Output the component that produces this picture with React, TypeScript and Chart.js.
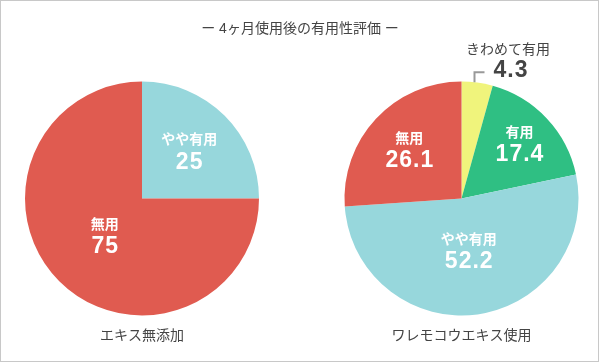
import { useEffect, useRef } from "react";
import { Chart, registerables } from "chart.js";

Chart.register(...registerables);

const titleText = "ー 4ヶ月使用後の有用性評価 ー";

const leftName = "エキス無添加";
const leftCategories = ["やや有用", "無用"];
const leftValues = [25, 75];

const rightName = "ワレモコウエキス使用";
const rightCategories = ["きわめて有用", "有用", "やや有用", "無用"];
const rightValues = [4.3, 17.4, 52.2, 26.1];

const colorMap: Record<string, string> = {
  "きわめて有用": "#F0F47C",
  "有用": "#2FBF83",
  "やや有用": "#97D7DC",
  "無用": "#E05B50",
};

// label distance from centre as a fraction of the radius (null = outside with leader)
const leftLabelDist: (number | null)[] = [0.57, 0.45];
const rightLabelDist: (number | null)[] = [null, 0.68, 0.45, 0.61];

const FONT = "'Liberation Sans', 'Noto Sans CJK JP', sans-serif";

function makeLabelPlugin(name: string, dists: (number | null)[], drawFrame: boolean) {
  return {
    id: "sliceLabels",
    beforeDraw(chart: any) {
      if (!drawFrame) {
        const ctx = chart.ctx;
        ctx.save();
        ctx.fillStyle = "#ffffff";
        ctx.fillRect(0, 0, chart.width, chart.height);
        ctx.restore();
      }
    },
    afterDraw(chart: any) {
      const ctx = chart.ctx;
      const meta = chart.getDatasetMeta(0);
      const ds = chart.data.datasets[0];
      ctx.save();
      ctx.textAlign = "center";
      ctx.textBaseline = "middle";
      meta.data.forEach((arc: any, i: number) => {
        const p = arc.getProps(["x", "y", "startAngle", "endAngle", "outerRadius"], true);
        const val = ds.data[i];
        const label = chart.data.labels[i];
        const d = dists[i];
        if (d != null) {
          const mid = (p.startAngle + p.endAngle) / 2;
          const cx = p.x + Math.cos(mid) * p.outerRadius * d;
          const cy = p.y + Math.sin(mid) * p.outerRadius * d;
          ctx.fillStyle = "#ffffff";
          ctx.letterSpacing = "0px";
          ctx.font = `bold 14px ${FONT}`;
          ctx.fillText(label, cx, cy - 11);
          ctx.letterSpacing = "1px";
          ctx.font = `bold 23px ${FONT}`;
          ctx.fillText(String(val), cx + 0.5, cy + 11);
        } else {
          const a = p.startAngle + (p.endAngle - p.startAngle) * 0.4;
          const ex = Math.round(p.x + Math.cos(a) * p.outerRadius) + 0.5;
          const ey = p.y + Math.sin(a) * p.outerRadius;
          const cy = ey - 10;
          ctx.strokeStyle = "#999999";
          ctx.lineWidth = 2;
          ctx.beginPath();
          ctx.moveTo(ex, ey);
          ctx.lineTo(ex, cy);
          ctx.lineTo(ex + 10, cy);
          ctx.stroke();
          ctx.fillStyle = "#444444";
          ctx.letterSpacing = "0px";
          ctx.font = `14px ${FONT}`;
          ctx.fillText(label, ex + 33.5, cy - 22);
          ctx.letterSpacing = "1px";
          ctx.font = `bold 23px ${FONT}`;
          ctx.fillText(String(val), ex + 36.5, cy - 1.5);
        }
      });
      ctx.letterSpacing = "0px";
      const first = meta.data[0];
      ctx.fillStyle = "#444444";
      ctx.font = `14px ${FONT}`;
      ctx.fillText(name, first.x, 336);
      if (drawFrame) {
        ctx.fillText(titleText, chart.width / 2, 29);
        ctx.strokeStyle = "#c8c8c8";
        ctx.lineWidth = 1;
        ctx.strokeRect(0.5, 0.5, 598, 361);
      }
      ctx.restore();
    },
  };
}

function makeChart(
  canvas: HTMLCanvasElement,
  labels: string[],
  values: number[],
  padding: { left: number; right: number; top: number; bottom: number },
  plugin: any
) {
  return new Chart(canvas, {
    type: "pie",
    data: {
      labels,
      datasets: [
        {
          data: values,
          backgroundColor: labels.map((l) => colorMap[l]),
          borderWidth: 0,
          hoverOffset: 0,
        },
      ],
    },
    options: {
      responsive: false,
      animation: false,
      layout: { padding },
      plugins: {
        legend: { display: false },
        tooltip: { enabled: false },
        title: { display: false },
      },
    },
    plugins: [plugin],
  });
}

export default function App() {
  const leftRef = useRef<HTMLCanvasElement>(null);
  const rightRef = useRef<HTMLCanvasElement>(null);

  useEffect(() => {
    const c1 = makeChart(
      leftRef.current!,
      leftCategories,
      leftValues,
      { left: 25, right: 341, top: 81.5, bottom: 47.5 },
      makeLabelPlugin(leftName, leftLabelDist, false)
    );
    const c2 = makeChart(
      rightRef.current!,
      rightCategories,
      rightValues,
      { left: 344.5, right: 21.5, top: 81.5, bottom: 47.5 },
      makeLabelPlugin(rightName, rightLabelDist, true)
    );
    return () => {
      c1.destroy();
      c2.destroy();
    };
  }, []);

  const cstyle: React.CSSProperties = {
    position: "absolute",
    left: 0,
    top: 0,
    width: 600,
    height: 363,
  };

  return (
    <div style={{ position: "fixed", left: 0, top: 0, width: 600, height: 363, background: "#fff" }}>
      <canvas ref={leftRef} width={600} height={363} style={cstyle} />
      <canvas ref={rightRef} width={600} height={363} style={cstyle} />
    </div>
  );
}
